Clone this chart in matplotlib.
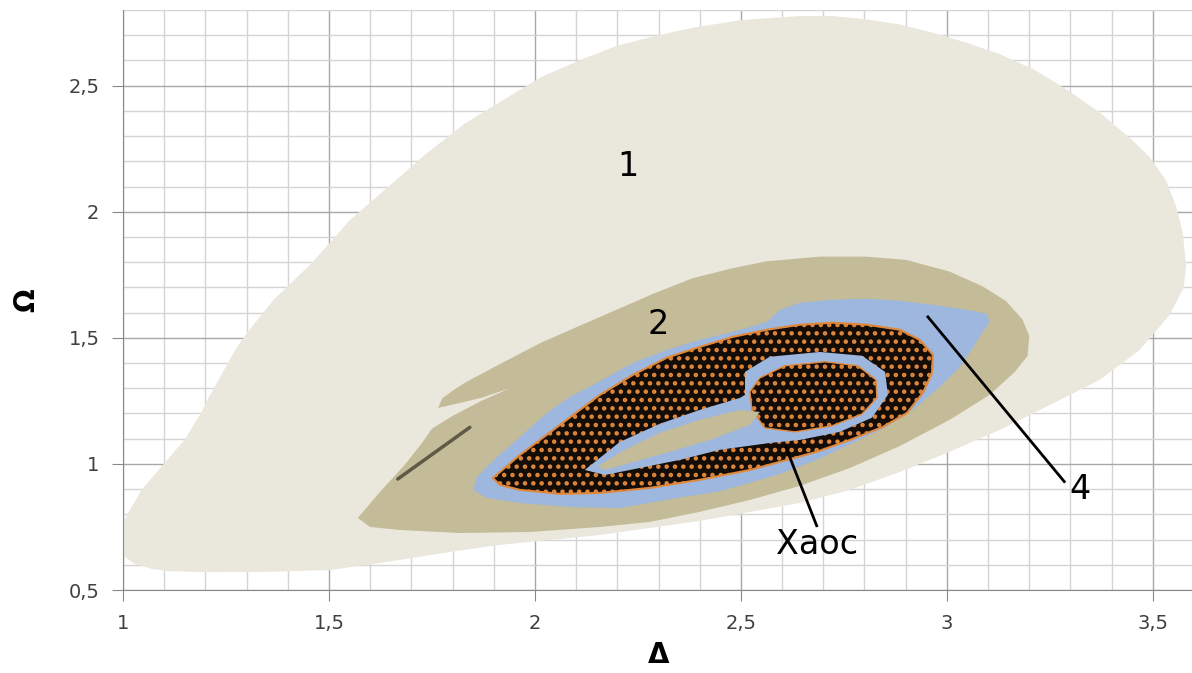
import numpy as np
import matplotlib.pyplot as plt

# region outlines, (Delta, Omega)
region1_x = [0.98, 1.0, 1.012, 1.045, 1.101, 1.15, 1.19, 1.206, 1.273, 1.301, 1.366, 1.458, 1.551,
             1.644, 1.736, 1.829, 1.921, 2.014, 2.106, 2.199, 2.292, 2.384, 2.5, 2.642, 2.723, 2.804,
             2.885, 2.966, 3.047, 3.128, 3.209, 3.289, 3.37, 3.451, 3.492, 3.532, 3.557, 3.573, 3.581,
             3.575, 3.541, 3.468, 3.371, 3.25, 3.129, 3.007, 2.886, 2.765, 2.643, 2.40, 2.158,
             1.915, 1.794, 1.672, 1.502, 1.352, 1.19, 1.109, 1.069, 1.028, 1.0, 0.98]
region1_y = [0.70, 0.764, 0.804, 0.897, 1.004, 1.097, 1.204, 1.257, 1.454, 1.52, 1.651, 1.796, 1.967,
             2.099, 2.23, 2.349, 2.441, 2.533, 2.599, 2.658, 2.697, 2.73, 2.76, 2.776, 2.776, 2.763,
             2.743, 2.71, 2.671, 2.625, 2.566, 2.487, 2.395, 2.283, 2.217, 2.125, 2.02, 1.914, 1.783,
             1.70, 1.591, 1.452, 1.333, 1.234, 1.135, 1.048, 0.968, 0.897, 0.845, 0.774, 0.718,
             0.679, 0.651, 0.619, 0.579, 0.572, 0.571, 0.575, 0.584, 0.604, 0.637, 0.66]

region2_x = [1.57, 1.624, 1.684, 1.726, 1.75, 1.80, 1.87, 1.939, 1.87, 1.80, 1.765, 1.775, 1.80, 1.83,
             1.921, 2.014, 2.106, 2.199, 2.292, 2.384, 2.48, 2.561, 2.691, 2.804, 2.901, 3.006, 3.087,
             3.144, 3.184, 3.2, 3.196, 3.165, 3.104, 3.007, 2.886, 2.765, 2.643, 2.522, 2.40, 2.279,
             2.158, 1.988, 1.818, 1.672, 1.60]
region2_y = [0.786, 0.889, 0.996, 1.083, 1.14, 1.19, 1.25, 1.30, 1.262, 1.235, 1.222, 1.26, 1.29, 1.322,
             1.401, 1.48, 1.546, 1.612, 1.678, 1.737, 1.776, 1.803, 1.822, 1.822, 1.809, 1.763, 1.704,
             1.645, 1.572, 1.507, 1.428, 1.365, 1.274, 1.175, 1.071, 0.984, 0.913, 0.857, 0.81, 0.77,
             0.75, 0.73, 0.726, 0.738, 0.75]

blue_x = [1.85, 1.859, 1.908, 1.964, 2.029, 2.085, 2.15, 2.238, 2.32, 2.40, 2.481, 2.563, 2.595, 2.643,
          2.723, 2.806, 2.886, 2.966, 3.049, 3.097, 3.104, 3.087, 3.063, 3.032, 2.983, 2.927, 2.854,
          2.772, 2.684, 2.602, 2.522, 2.442, 2.359, 2.206, 2.085, 1.964, 1.883]
blue_y = [0.897, 0.948, 1.028, 1.107, 1.202, 1.266, 1.321, 1.401, 1.452, 1.492, 1.524, 1.563, 1.611,
          1.639, 1.651, 1.655, 1.647, 1.631, 1.611, 1.595, 1.563, 1.524, 1.46, 1.385, 1.306, 1.226,
          1.147, 1.083, 1.016, 0.964, 0.925, 0.889, 0.869, 0.825, 0.829, 0.845, 0.865]

chaos_x = [1.898, 1.964, 2.061, 2.158, 2.238, 2.32, 2.40, 2.481, 2.563, 2.643, 2.723, 2.806, 2.886,
           2.934, 2.966, 2.964, 2.942, 2.903, 2.845, 2.765, 2.684, 2.612, 2.522, 2.40, 2.279, 2.158,
           2.061, 1.964, 1.915]
chaos_y = [0.944, 1.036, 1.155, 1.274, 1.353, 1.421, 1.464, 1.504, 1.532, 1.552, 1.56, 1.552, 1.532,
           1.492, 1.433, 1.361, 1.282, 1.202, 1.147, 1.095, 1.048, 1.016, 0.976, 0.937, 0.905, 0.885,
           0.881, 0.897, 0.917]

inner_blue_x = [2.121, 2.206, 2.303, 2.40, 2.498, 2.51, 2.51, 2.57, 2.692, 2.794, 2.85, 2.857, 2.818,
                2.74, 2.643, 2.57, 2.449, 2.352, 2.255, 2.17]
inner_blue_y = [0.976, 1.087, 1.159, 1.214, 1.262, 1.274, 1.365, 1.425, 1.444, 1.429, 1.365, 1.274,
                1.183, 1.127, 1.095, 1.083, 1.056, 1.016, 0.984, 0.956]

inner_chaos_x = [2.546, 2.607, 2.704, 2.784, 2.828, 2.83, 2.794, 2.721, 2.631, 2.558, 2.527, 2.522]
inner_chaos_y = [1.341, 1.389, 1.405, 1.389, 1.333, 1.262, 1.198, 1.151, 1.127, 1.143, 1.214, 1.286]

hole_x = [2.153, 2.218, 2.303, 2.40, 2.498, 2.546, 2.522, 2.425, 2.328, 2.231, 2.17]
hole_y = [0.992, 1.056, 1.123, 1.175, 1.214, 1.206, 1.155, 1.095, 1.048, 1.004, 0.976]

# thin dark trail inside region 2
trail_x = [1.667, 1.842]
trail_y = [0.94, 1.145]

x_ticks = [1, 1.5, 2, 2.5, 3, 3.5]
x_labels = ['1', '1,5', '2', '2,5', '3', '3,5']
y_ticks = [0.5, 1, 1.5, 2, 2.5]
y_labels = ['0,5', '1', '1,5', '2', '2,5']

c_region1 = '#EAE7DD'
c_region2 = '#C4BB98'
c_blue = '#9DB7DF'
c_chaos = '#140C07'

plt.rcParams['hatch.linewidth'] = 2.0

fig = plt.figure(figsize=(11.92, 6.73), dpi=100)
ax = fig.add_axes([123 / 1192, 83 / 673, 1071 / 1192, 580 / 673])

ax.fill(region1_x, region1_y, color=c_region1, lw=0, zorder=2)
ax.fill(region2_x, region2_y, color=c_region2, lw=0, zorder=3)
ax.plot(trail_x, trail_y, color='#5E5A46', lw=2.5, solid_capstyle='round', zorder=4)
ax.fill(blue_x, blue_y, color=c_blue, lw=0, zorder=4)
ax.fill(chaos_x, chaos_y, facecolor=c_chaos, edgecolor='#E0883C', hatch='..', lw=1.5, zorder=5)
ax.fill(inner_blue_x, inner_blue_y, color=c_blue, lw=0, zorder=6)
ax.fill(inner_chaos_x, inner_chaos_y, facecolor=c_chaos, edgecolor='#E0883C', hatch='..', lw=1, zorder=7)
ax.fill(hole_x, hole_y, color=c_region2, lw=0, zorder=7)

# labels and pointers
ax.text(2.226, 2.179, '1', fontsize=24, ha='center', va='center', zorder=10)
ax.text(2.299, 1.552, '2', fontsize=24, ha='center', va='center', zorder=10)
ax.plot([2.954, 3.285], [1.583, 0.93], color='black', lw=2, zorder=10)
ax.text(3.323, 0.897, '4', fontsize=24, ha='center', va='center', zorder=10)
ax.plot([2.609, 2.684], [1.067, 0.755], color='black', lw=2, zorder=10)
ax.text(2.684, 0.679, 'Xaoc', fontsize=24, ha='center', va='center', zorder=10)

ax.set_xlim(1, 3.6)
ax.set_ylim(0.5, 2.8)
ax.set_xticks(x_ticks)
ax.set_xticklabels(x_labels)
ax.set_yticks(y_ticks)
ax.set_yticklabels(y_labels)
ax.set_xticks(np.arange(1, 3.61, 0.1), minor=True)
ax.set_yticks(np.arange(0.5, 2.81, 0.1), minor=True)
ax.tick_params(which='major', length=8, color='#888888', labelsize=14, labelcolor='#404040', pad=9)
ax.tick_params(which='minor', length=0)
ax.grid(which='minor', color='#D4D4D4', lw=1)
ax.grid(which='major', color='#A8A8A8', lw=1)
ax.set_axisbelow(True)
for s in ['top', 'right']:
    ax.spines[s].set_visible(False)
for s in ['left', 'bottom']:
    ax.spines[s].set_color('#888888')

ax.set_xlabel('Δ', fontsize=20, fontweight='bold', labelpad=6)
ax.set_ylabel('Ω', fontsize=20, fontweight='bold', labelpad=20)

fig.savefig('out.png', dpi=100)
